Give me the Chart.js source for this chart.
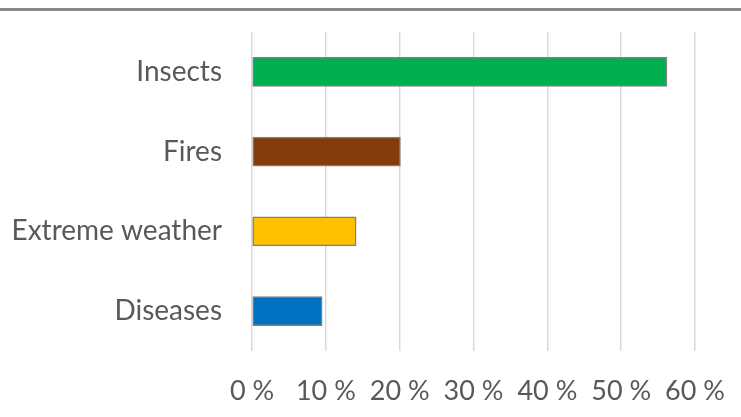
<!DOCTYPE html>
<html>
<head>
<meta charset="utf-8">
<script src="https://cdn.jsdelivr.net/npm/chart.js@4"></script>
<style>
    html, body { margin: 0; padding: 0; background: #fff; }
    #wrap { position: relative; width: 741px; height: 417px; }
    #topline { position: absolute; left: 0; top: 8px; width: 741px; height: 0; border-top: 3px solid #878787; }
</style>
</head>
<body>
<div id="wrap">
    <div id="topline"></div>
    <canvas id="chart" width="741" height="417"></canvas>
</div>
<script>
// --- DATA ---
const categories = ['Insects', 'Fires', 'Extreme weather', 'Diseases'];
const shares = [56.2, 20.1, 14.1, 9.5];
const barColors = ['#00B050', '#843C0C', '#FFC000', '#0070C0'];
const xTicks = [0, 10, 20, 30, 40, 50, 60];

const fontFamily = "Lato, 'Open Sans', sans-serif";

new Chart(document.getElementById('chart').getContext('2d'), {
    type: 'bar',
    data: {
        labels: categories,
        datasets: [{
            data: shares,
            backgroundColor: barColors,
            borderColor: '#7f7f7f',
            borderWidth: 1.5,
            borderSkipped: false,
            barThickness: 29
        }]
    },
    options: {
        indexAxis: 'y',
        responsive: false,
        animation: false,
        layout: { padding: { top: 32, right: 46, left: 0, bottom: 0 } },
        plugins: { legend: { display: false }, tooltip: { enabled: false } },
        scales: {
            x: {
                min: xTicks[0],
                max: xTicks[xTicks.length - 1],
                afterBuildTicks: axis => { axis.ticks = xTicks.map(v => ({ value: v })); },
                afterFit: axis => {
                    axis.height = 66;
                    axis.paddingLeft = 0;
                    axis.paddingRight = 0;
                },
                grid: { color: '#d9d9d9', lineWidth: 1.5, drawTicks: false },
                border: { display: false },
                ticks: {
                    color: '#595959',
                    font: { family: fontFamily, size: 27 },
                    padding: 24,
                    callback: v => v + ' %'
                }
            },
            y: {
                afterFit: axis => {
                    axis.width = 252;
                    axis.paddingTop = 0;
                    axis.paddingBottom = 0;
                },
                grid: { display: false, drawTicks: false },
                border: { display: false },
                ticks: { color: '#595959', font: { family: fontFamily, size: 28 }, padding: 30 }
            }
        }
    }
});
</script>
</body>
</html>
